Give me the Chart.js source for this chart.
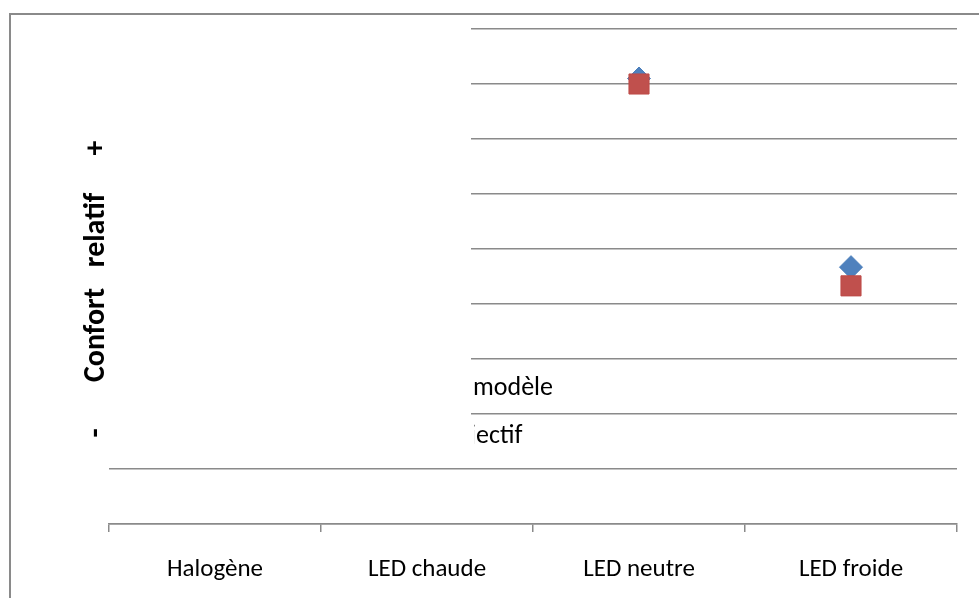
<!DOCTYPE html>
<html>
<head>
<meta charset="utf-8">
<script src="https://cdn.jsdelivr.net/npm/chart.js@4"></script>
<style>
  html, body { margin: 0; padding: 0; background: #fff; }
  #wrap { width: 979px; height: 598px; }
</style>
</head>
<body>
<div id="wrap"><canvas id="chart" width="979" height="598"></canvas></div>
<script>
// Data (the two left categories are hidden by a white box)
const categories = ['Halogène', 'LED chaude', 'LED neutre', 'LED froide'];
const modelValues = [null, null, 8.1, 4.67];
const subjectiveValues = [null, null, 8.0, 4.33];
const seriesNames = ['Confort modèle', 'Confort subjectif'];
const yMin = 0, yMax = 9, yStep = 1;

const FONT = 'Carlito, Lato, "Open Sans", sans-serif';
const GRID = '#8a8a8a';

// Frame, white cover box, y title and the visible bits of the legend
const overlay = {
    id: 'overlay',
    beforeDraw(chart) {
        const ctx = chart.ctx;
        ctx.save();
        ctx.fillStyle = '#fff';
        ctx.fillRect(0, 0, chart.width, chart.height);
        ctx.restore();
    },
    afterDatasetsDraw(chart) {
        const ctx = chart.ctx;
        ctx.save();
        // outer frame
        ctx.strokeStyle = GRID;
        ctx.lineWidth = 2;
        ctx.strokeRect(10, 14, chart.width + 20, chart.height + 20);

        // white box hiding the left part
        ctx.fillStyle = '#fff';
        ctx.fillRect(20, 16, 451, 440);

        // legend text, cut by the box edge
        ctx.fillStyle = '#000';
        ctx.font = '26px ' + FONT;
        ctx.textBaseline = 'alphabetic';
        ctx.save();
        ctx.beginPath();
        ctx.rect(471, 360, 200, 50);
        ctx.clip();
        ctx.fillText(seriesNames[0], 473 - ctx.measureText('Confort ').width, 395);
        ctx.restore();
        ctx.beginPath();
        ctx.rect(474, 415, 200, 40);
        ctx.clip();
        ctx.fillText(seriesNames[1], 476 - ctx.measureText('Confort subj').width, 443);
        ctx.restore();

        // y title: - Confort relatif +
        ctx.save();
        ctx.translate(96, 0);
        ctx.rotate(-Math.PI / 2);
        ctx.fillStyle = '#000';
        ctx.textAlign = 'center';
        ctx.textBaseline = 'middle';
        ctx.font = 'bold 30px ' + FONT;
        ctx.fillText('-', -433, 0);
        ctx.fillText('Confort', -335, 0);
        ctx.fillText('relatif', -230, 0);
        ctx.fillText('+', -148, 0);
        ctx.restore();
    }
};

new Chart(document.getElementById('chart'), {
    type: 'line',
    data: {
        labels: categories,
        datasets: [
            {
                label: seriesNames[0],
                data: modelValues,
                order: 2,
                showLine: false,
                pointStyle: 'rectRot',
                pointRadius: 11.5,
                pointBackgroundColor: '#4f81bd',
                pointBorderColor: '#4a7ebb',
                pointBorderWidth: 1
            },
            {
                label: seriesNames[1],
                data: subjectiveValues,
                order: 1,
                showLine: false,
                pointStyle: 'rect',
                pointRadius: 14.2,
                pointBackgroundColor: '#c0504d',
                pointBorderColor: '#be4b48',
                pointBorderWidth: 1
            }
        ]
    },
    options: {
        responsive: false,
        animation: false,
        layout: { padding: { left: 109, right: 22, top: 29, bottom: 16 } },
        plugins: {
            legend: { display: false },
            tooltip: { enabled: false }
        },
        scales: {
            x: {
                type: 'category',
                offset: true,
                afterFit(scale) { scale.height = 58; },
                grid: {
                    offset: true,
                    drawOnChartArea: false,
                    drawTicks: true,
                    tickLength: 8,
                    color: GRID,
                    lineWidth: 1.5
                },
                border: { display: true, color: GRID, width: 1.5 },
                ticks: {
                    color: '#000',
                    font: { family: FONT, size: 25 },
                    padding: 23,
                    maxRotation: 0
                }
            },
            y: {
                min: yMin,
                max: yMax,
                ticks: { display: false, stepSize: yStep },
                grid: { color: GRID, lineWidth: 1.5, drawTicks: false },
                border: { display: false }
            }
        }
    },
    plugins: [overlay]
});
</script>
</body>
</html>
